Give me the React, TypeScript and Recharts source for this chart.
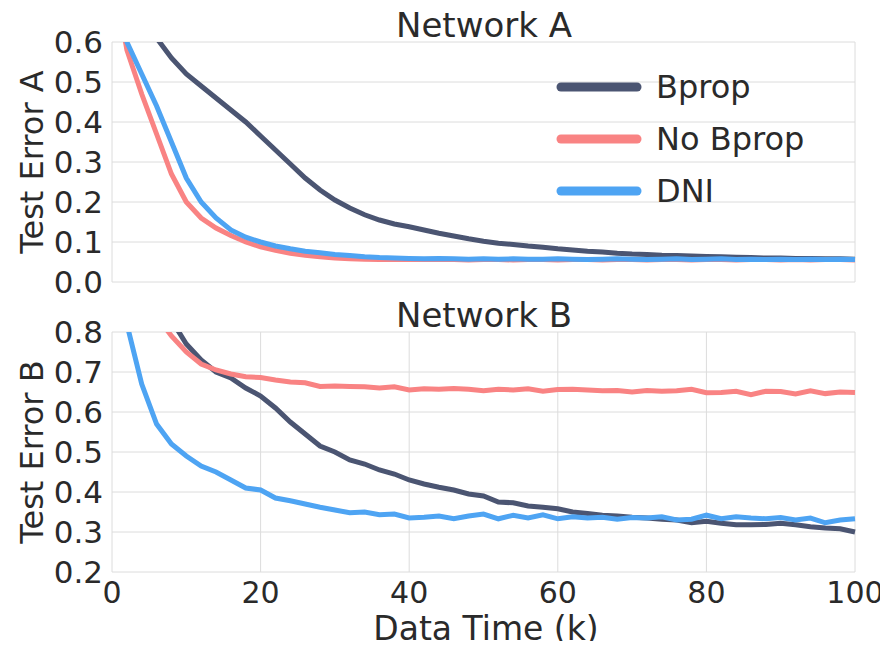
import React from 'react';
import { LineChart, Line, XAxis, YAxis, CartesianGrid, Legend } from 'recharts';

// x positions (k), read every 2k from the figure
const dataTime = [
  0, 2, 4, 6, 8, 10, 12, 14, 16, 18, 20, 22, 24, 26, 28, 30, 32, 34, 36, 38, 40, 42, 44, 46, 48, 50,
  52, 54, 56, 58, 60, 62, 64, 66, 68, 70, 72, 74, 76, 78, 80, 82, 84, 86, 88, 90, 92, 94, 96, 98, 100,
];

// Network A
const bpropA = [
  1.0, 0.85, 0.7, 0.61, 0.56, 0.52, 0.49, 0.46, 0.43, 0.4, 0.365, 0.33, 0.295, 0.26, 0.23, 0.205,
  0.185, 0.168, 0.155, 0.145, 0.138, 0.13, 0.122, 0.115, 0.108, 0.102, 0.097, 0.094, 0.09, 0.087,
  0.083, 0.08, 0.077, 0.075, 0.072, 0.07, 0.069, 0.067, 0.066, 0.065, 0.064, 0.063, 0.062, 0.061,
  0.06, 0.06, 0.059, 0.059, 0.058, 0.058, 0.057,
];
const noBpropA = [
  0.8, 0.58, 0.47, 0.37, 0.27, 0.2, 0.16, 0.135, 0.116, 0.1, 0.088, 0.079, 0.072, 0.067, 0.063, 0.06,
  0.058, 0.057, 0.056, 0.057, 0.056, 0.056, 0.057, 0.056, 0.055, 0.056, 0.056, 0.055, 0.056, 0.056,
  0.055, 0.056, 0.056, 0.055, 0.056, 0.056, 0.055, 0.056, 0.056, 0.055, 0.056, 0.056, 0.055, 0.056,
  0.056, 0.055, 0.056, 0.055, 0.056, 0.056, 0.055,
];
const dniA = [
  0.8, 0.6, 0.52, 0.44, 0.35, 0.26, 0.2, 0.16, 0.13, 0.112, 0.1, 0.09, 0.083, 0.077, 0.073, 0.069,
  0.066, 0.063, 0.061, 0.06, 0.059, 0.058, 0.059, 0.058, 0.057, 0.058, 0.057, 0.058, 0.057, 0.057,
  0.058, 0.057, 0.056, 0.057, 0.058, 0.057, 0.056, 0.057, 0.058, 0.056, 0.057, 0.058, 0.056, 0.057,
  0.056, 0.057, 0.056, 0.057, 0.056, 0.057, 0.056,
];

// Network B
const bpropB = [
  1.2, 1.1, 1.0, 0.9, 0.83, 0.77, 0.73, 0.7, 0.685, 0.66, 0.64, 0.61, 0.575, 0.545, 0.515, 0.5, 0.48,
  0.47, 0.455, 0.445, 0.43, 0.42, 0.412, 0.405, 0.395, 0.39, 0.375, 0.373, 0.365, 0.362, 0.358, 0.35,
  0.346, 0.342, 0.34, 0.337, 0.335, 0.332, 0.33, 0.323, 0.327, 0.322, 0.318, 0.318, 0.319, 0.322,
  0.318, 0.313, 0.31, 0.308, 0.3,
];
const noBpropB = [
  1.0, 0.95, 0.9, 0.84, 0.79, 0.75, 0.72, 0.705, 0.695, 0.688, 0.686, 0.68, 0.675, 0.673, 0.664,
  0.665, 0.664, 0.663, 0.66, 0.663, 0.655, 0.658, 0.657, 0.659, 0.657, 0.653, 0.657, 0.655, 0.658,
  0.652, 0.656, 0.657, 0.655, 0.653, 0.654, 0.65, 0.654, 0.652, 0.653, 0.657, 0.648, 0.649, 0.652,
  0.643, 0.652, 0.651, 0.645, 0.653, 0.646, 0.65, 0.649,
];
const dniB = [
  1.0, 0.82, 0.67, 0.57, 0.52, 0.49, 0.465, 0.45, 0.43, 0.41, 0.405, 0.385, 0.378, 0.37, 0.362, 0.355,
  0.348, 0.35, 0.343, 0.345, 0.335, 0.337, 0.34, 0.333, 0.34, 0.345, 0.333, 0.342, 0.335, 0.343,
  0.333, 0.338, 0.335, 0.337, 0.332, 0.336, 0.335, 0.338, 0.33, 0.332, 0.342, 0.333, 0.338, 0.335,
  0.333, 0.336, 0.33, 0.335, 0.323, 0.33, 0.333,
];

const xTicks = [0, 20, 40, 60, 80, 100];
const yTicksA = [0, 0.1, 0.2, 0.3, 0.4, 0.5, 0.6];
const yTicksB = [0.2, 0.3, 0.4, 0.5, 0.6, 0.7, 0.8];

const seriesNames = ['Bprop', 'No Bprop', 'DNI'];
const colors = ['#4b5572', '#f98383', '#4ea4f3'];

const rowsA = dataTime.map((t, i) => ({ t, bprop: bpropA[i], noBprop: noBpropA[i], dni: dniA[i] }));
const rowsB = dataTime.map((t, i) => ({ t, bprop: bpropB[i], noBprop: noBpropB[i], dni: dniB[i] }));

const font = '"DejaVu Sans", sans-serif';
const textColor = '#2a2a2a';
const gridColor = '#dcdcdc';

// keep the legend in series order (recharts sorts by name otherwise)
const LegendBox = ({ payload }: any) => {
  const items = [...(payload || [])].sort(
    (a: any, b: any) => seriesNames.indexOf(a.value) - seriesNames.indexOf(b.value)
  );
  return (
    <div style={{ fontFamily: font, fontSize: 32, color: textColor }}>
      {items.map((p: any) => (
        <div key={p.value} style={{ display: 'flex', alignItems: 'center', height: 52 }}>
          <svg width={86} height={12} style={{ marginRight: 14 }}>
            <line x1={5} y1={6} x2={81} y2={6} stroke={p.color} strokeWidth={9} strokeLinecap="round" />
          </svg>
          <span>{p.value}</span>
        </div>
      ))}
    </div>
  );
};

const Panel = ({ rows, ticks, domain, height, withXTicks, withLegend }: any) => (
  <LineChart
    width={888}
    height={height}
    data={rows}
    margin={{ top: 42, right: 33, bottom: 0, left: 0 }}
    style={{ overflow: 'visible' }}
  >
    <CartesianGrid stroke={gridColor} strokeWidth={1} />
    <XAxis
      type="number"
      dataKey="t"
      domain={[0, 100]}
      ticks={xTicks}
      interval={0}
      axisLine={false}
      tickLine={false}
      tickSize={8}
      height={height - 42 - 240}
      tick={withXTicks ? { fill: textColor, fontSize: 30, fontFamily: font } : false}
    />
    <YAxis
      type="number"
      domain={domain}
      ticks={ticks}
      interval={0}
      allowDataOverflow
      width={112}
      axisLine={false}
      tickLine={false}
      tickSize={7}
      tickMargin={2}
      tickFormatter={(v: number) => v.toFixed(1)}
      tick={{ fill: textColor, fontSize: 31, fontFamily: font }}
    />
    {withLegend && (
      <Legend
        layout="vertical"
        align="center"
        verticalAlign="middle"
        content={<LegendBox />}
        wrapperStyle={{ top: 61, left: 556, width: 280 }}
      />
    )}
    {['bprop', 'noBprop', 'dni'].map((key, i) => (
      <Line
        key={key}
        type="linear"
        dataKey={key}
        name={seriesNames[i]}
        stroke={colors[i]}
        strokeWidth={5}
        dot={false}
        isAnimationActive={false}
      />
    ))}
  </LineChart>
);

const abs = (style: React.CSSProperties): React.CSSProperties => ({
  position: 'absolute',
  fontFamily: font,
  color: textColor,
  whiteSpace: 'nowrap',
  ...style,
});

export default function App() {
  return (
    <div style={{ position: 'relative', width: 888, height: 649, margin: -8, background: '#fff', overflow: 'hidden' }}>
      <div style={{ position: 'absolute', left: 0, top: 0 }}>
        <Panel rows={rowsA} ticks={yTicksA} domain={[0, 0.6]} height={300} withXTicks={false} withLegend />
      </div>
      <div style={{ position: 'absolute', left: 0, top: 290 }}>
        <Panel rows={rowsB} ticks={yTicksB} domain={[0.2, 0.8]} height={359} withXTicks withLegend={false} />
      </div>

      <div style={abs({ left: 484, top: 25, fontSize: 34, transform: 'translate(-50%, -50%)' })}>Network A</div>
      <div style={abs({ left: 484, top: 315, fontSize: 34, transform: 'translate(-50%, -50%)' })}>Network B</div>

      <div style={abs({ left: 32, top: 162, fontSize: 32, transform: 'translate(-50%, -50%) rotate(-90deg)' })}>Test Error A</div>
      <div style={abs({ left: 32, top: 452, fontSize: 32, transform: 'translate(-50%, -50%) rotate(-90deg)' })}>Test Error B</div>

      <div style={abs({ left: 486, top: 629, fontSize: 33, lineHeight: '34px', transform: 'translate(-50%, -50%)' })}>Data Time (k)</div>
    </div>
  );
}
